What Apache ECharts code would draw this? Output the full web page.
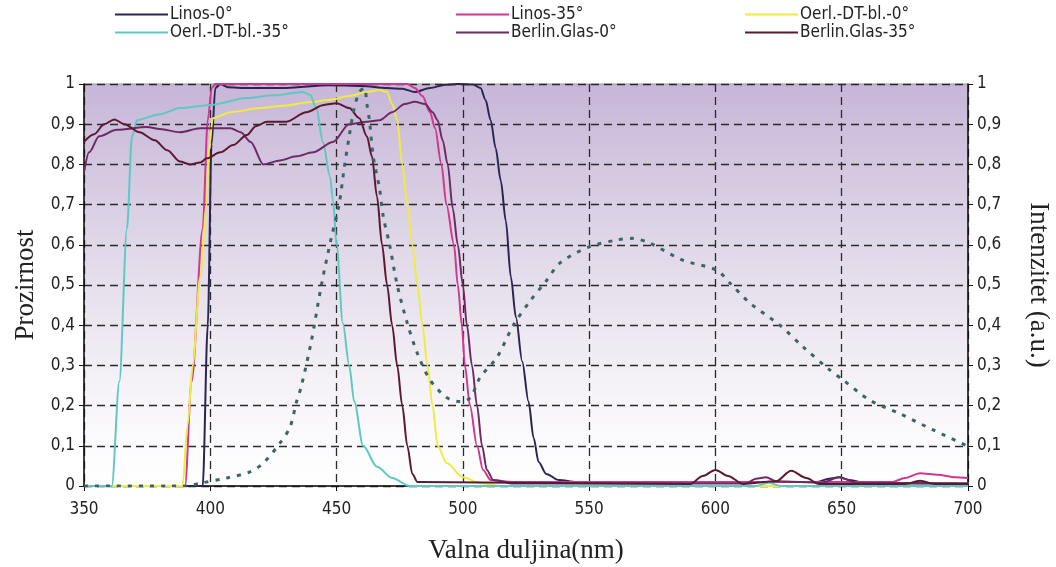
<!DOCTYPE html>
<html>
<head>
<meta charset="utf-8">
<script src="https://cdn.jsdelivr.net/npm/echarts@6/dist/echarts.min.js"></script>
<style>
  html, body { margin: 0; padding: 0; background: #fff; }
  #main { width: 1056px; height: 567px; }
</style>
</head>
<body>
<div id="main"></div>
<script>
// valna duljina (nm) / prozirnost - procitano sa slike
const linos0 = [[350,0],[397,0],[399,0.4],[400.5,0.85],[402,0.99],[404,1.0],[407,0.992],[412,0.99],[430,0.99],[447,0.997],[460,0.995],[470,0.99],[476,0.988],[481,0.98],[487,0.99],[493,0.998],[498,1.0],[504,0.999],[507,0.99],[509,0.96],[511,0.91],[513,0.84],[515,0.76],[517,0.66],[519,0.52],[521,0.42],[523.5,0.31],[526,0.21],[528,0.12],[530,0.06],[533,0.03],[538,0.015],[545,0.01],[640,0.01],[645,0.018],[649,0.022],[653,0.015],[660,0.006],[700,0.006]];
const linos35 = [[350,0],[390,0],[392.6,0.26],[397,0.64],[399,0.91],[400.6,0.99],[402,1.0],[478,1.0],[481,0.99],[484,0.97],[487,0.93],[489,0.89],[491.5,0.8],[493.5,0.7],[496.5,0.6],[498,0.5],[499.6,0.4],[500.8,0.3],[502.8,0.2],[505.6,0.1],[508,0.04],[511,0.015],[520,0.01],[670,0.01],[675,0.02],[681,0.032],[688,0.028],[695,0.022],[700,0.02]];
const oerl0 = [[350,0],[389,0],[391,0.15],[393,0.3],[396,0.52],[398.6,0.7],[399.3,0.83],[401,0.915],[408,0.93],[420,0.94],[428,0.945],[440,0.955],[447,0.96],[455,0.97],[462,0.98],[467,0.985],[470,0.98],[472,0.95],[474,0.91],[476,0.8],[478,0.7],[480,0.6],[482,0.5],[484,0.4],[486,0.3],[488,0.2],[490,0.1],[493.6,0.057],[500,0.022],[507,0.007],[515,0],[700,0]];
const oerl35 = [[350,0],[361,0],[364,0.26],[367,0.64],[369,0.87],[371,0.91],[380,0.925],[388,0.94],[400,0.948],[414.5,0.965],[425,0.972],[436.7,0.98],[439.5,0.973],[442,0.94],[444.6,0.856],[447.4,0.77],[448.6,0.71],[450,0.6],[452.5,0.405],[455,0.3],[457,0.21],[460.5,0.1],[466,0.048],[472,0.02],[479,0],[616,0],[621,0.008],[626,0],[700,0]];
const berlin0 = [[350,0.78],[352,0.83],[356,0.87],[363,0.886],[375,0.893],[380,0.888],[388,0.88],[396,0.89],[408,0.89],[412,0.88],[416,0.856],[421,0.8],[427.6,0.81],[434,0.82],[440.7,0.83],[448.6,0.856],[455,0.9],[462,0.906],[467,0.91],[472,0.93],[477,0.95],[481,0.956],[485,0.95],[488,0.93],[490,0.91],[492,0.86],[494,0.8],[496,0.69],[498,0.6],[500,0.5],[501.6,0.4],[503.6,0.3],[505.6,0.2],[507.6,0.1],[509.5,0.04],[512,0.015],[520,0.006],[612,0.006],[616,0.018],[620,0.022],[624,0.012],[642,0.008],[649,0.022],[656,0.008],[700,0.006]];
const berlin35 = [[350,0.856],[354,0.875],[358,0.9],[362,0.912],[366,0.9],[372,0.88],[378,0.86],[383,0.835],[388,0.807],[392,0.8],[396,0.805],[398.6,0.815],[404,0.83],[409,0.848],[414.5,0.873],[418,0.895],[422.4,0.906],[430,0.906],[438,0.93],[445,0.948],[450,0.952],[455,0.94],[459,0.915],[462,0.87],[464,0.82],[466,0.72],[468,0.6],[470,0.5],[472,0.4],[474,0.3],[476,0.2],[478,0.1],[480,0.03],[482,0.01],[590,0.005],[595,0.025],[600,0.04],[605,0.025],[611,0.005],[624,0.012],[630,0.038],[636,0.02],[641,0.005],[675,0.005],[681,0.013],[687,0.005],[700,0.005]];
// intenzitet (a.u.) - desna os
const intenzitet = [[350,0],[390,0],[396,0.007],[406.6,0.02],[415.7,0.035],[421,0.057],[427.6,0.107],[431.6,0.147],[434,0.206],[436,0.247],[440,0.36],[444,0.5],[448,0.62],[451,0.7],[453,0.79],[455,0.87],[457,0.94],[459,0.98],[461,0.99],[462,0.95],[463,0.91],[464.5,0.82],[467,0.74],[468.5,0.67],[471,0.6],[474,0.5],[478,0.405],[482,0.33],[487,0.264],[493.6,0.22],[499,0.21],[503,0.22],[506.8,0.27],[513.5,0.32],[520,0.4],[526.6,0.46],[533,0.51],[538.5,0.555],[550,0.595],[561,0.612],[567,0.616],[574,0.604],[587,0.562],[600.5,0.537],[605.7,0.505],[613.7,0.455],[625.5,0.4],[634.7,0.346],[645,0.29],[650.5,0.264],[661,0.214],[673,0.18],[686,0.14],[699.6,0.1]];

const names = ['Linos-0°', 'Linos-35°', 'Oerl.-DT-bl.-0°', 'Oerl.-DT-bl.-35°', 'Berlin.Glas-0°', 'Berlin.Glas-35°'];
const podaci = [linos0, linos35, oerl0, oerl35, berlin0, berlin35];
const boje = ['#2b2552', '#d2378f', '#eeec3e', '#5ec9c3', '#6e2a63', '#5c1832'];

const narrow = "'Liberation Sans Narrow', 'DejaVu Sans Condensed', 'Liberation Sans', sans-serif";
const serif = "'Liberation Serif', 'DejaVu Serif', serif";

function zarez(v) {
  if (v === 0) return '0';
  if (Math.abs(v - 1) < 1e-9) return '1';
  return v.toFixed(1).replace('.', ',');
}

let chart = echarts.init(document.getElementById('main'));

let series = podaci.map((d, i) => ({
  name: names[i],
  type: 'line',
  data: d,
  showSymbol: false,
  smooth: 0.3,
  smoothMonotone: 'x',
  lineStyle: { color: boje[i], width: 2 },
  itemStyle: { color: boje[i] },
  z: 3
}));
series.push({
  name: 'Intenzitet',
  type: 'line',
  yAxisIndex: 1,
  data: intenzitet,
  showSymbol: false,
  smooth: 0.3,
  lineStyle: { color: '#3c6466', width: 3, type: [4, 7] },
  z: 4
});

// legenda u tri stupca
function legenda(left, items) {
  return {
    orient: 'vertical',
    left: left,
    top: 6,
    padding: 0,
    itemGap: 1,
    itemWidth: 53,
    itemHeight: 2,
    icon: 'rect',
    data: items,
    textStyle: { fontFamily: narrow, fontSize: 17, color: '#222', lineHeight: 16, padding: [0, 0, 0, -3] }
  };
}

let yOs = (pos, ime, gap, rot) => ({
  type: 'value',
  position: pos,
  min: 0, max: 1, interval: 0.1,
  name: ime,
  nameLocation: 'middle',
  nameGap: gap,
  nameRotate: rot,
  nameTextStyle: { fontFamily: serif, fontSize: 27, color: '#222' },
  axisLine: { show: true, lineStyle: { color: '#111', width: 1.5 } },
  axisTick: { show: true, length: 5, lineStyle: { color: '#111' } },
  axisLabel: { fontFamily: narrow, fontSize: 17, color: '#222', margin: 9, formatter: zarez },
  splitLine: { show: pos === 'left', lineStyle: { color: '#2a2a2a', width: 1.3, type: [8, 5] } }
});

let option = {
  animation: false,
  legend: [
    legenda(115, [names[0], names[3]]),
    legenda(456, [names[1], names[4]]),
    legenda(745, [names[2], names[5]])
  ],
  grid: {
    left: 84, right: 88, top: 84, bottom: 81,
    outerBoundsMode: 'none',
    show: true,
    borderColor: '#999', borderWidth: 1,
    backgroundColor: {
      type: 'linear', x: 0, y: 0, x2: 0, y2: 1,
      colorStops: [
        { offset: 0, color: '#c7b6d8' },
        { offset: 0.45, color: '#e3dbea' },
        { offset: 0.8, color: '#f8f6fa' },
        { offset: 1, color: '#ffffff' }
      ]
    }
  },
  xAxis: {
    type: 'value',
    min: 350, max: 700, interval: 50,
    name: 'Valna duljina(nm)',
    nameLocation: 'middle',
    nameGap: 51,
    nameTextStyle: { fontFamily: serif, fontSize: 27, color: '#222' },
    axisLine: { lineStyle: { color: '#111', width: 1.5 } },
    axisTick: { show: true, length: 5, lineStyle: { color: '#111' } },
    axisLabel: { fontFamily: narrow, fontSize: 17, color: '#222', margin: 15 },
    splitLine: { show: true, lineStyle: { color: '#2a2a2a', width: 1.3, type: [8, 5] } }
  },
  yAxis: [
    yOs('left', 'Prozirnost', 44, 90),
    yOs('right', 'Intenzitet (a.u.)', 57, -90)
  ],
  series: series
};
chart.setOption(option);
</script>
</body>
</html>
